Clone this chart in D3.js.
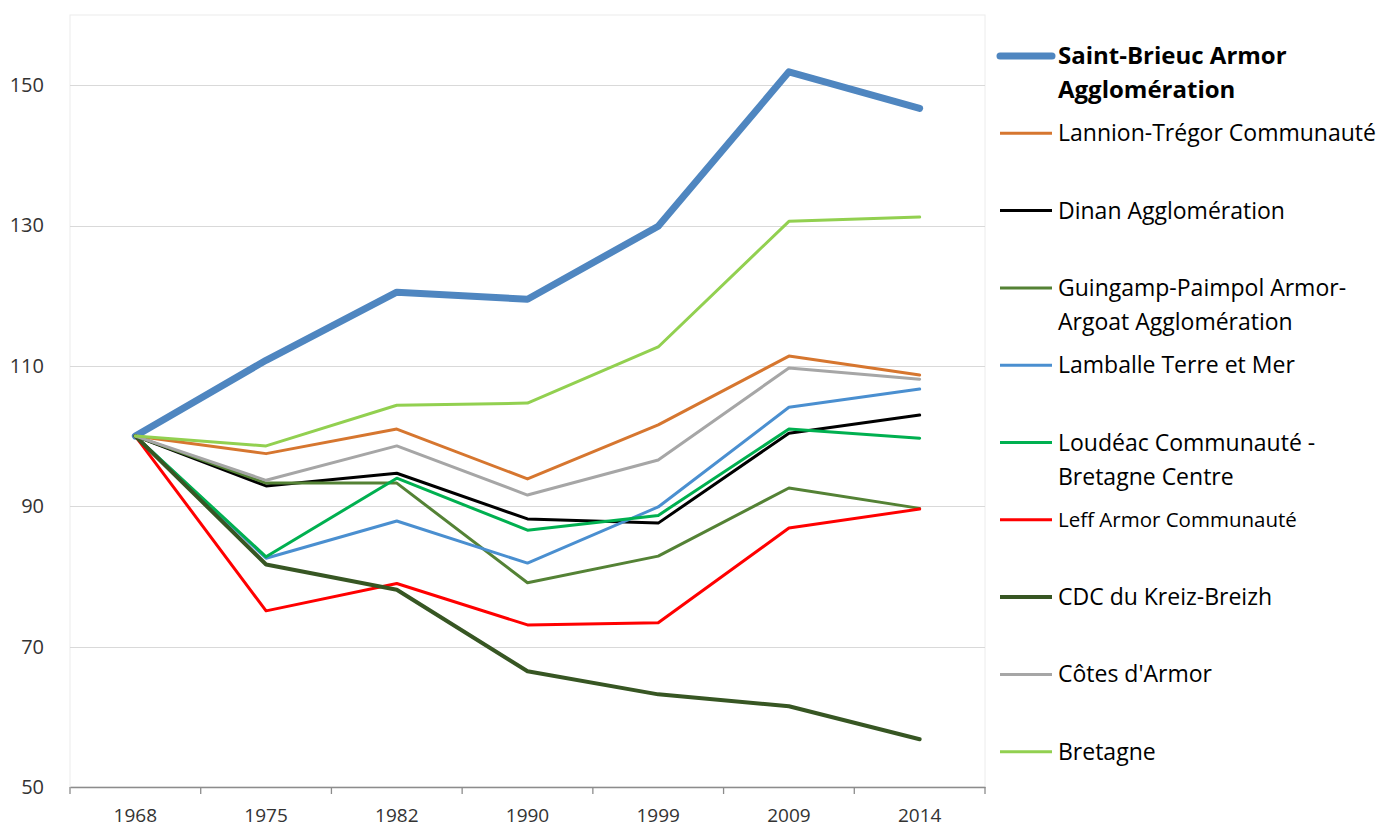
<!DOCTYPE html>
<html><head><meta charset="utf-8">
<script src="https://cdn.jsdelivr.net/npm/d3@7/dist/d3.min.js"></script>
<style>body{margin:0;background:#fff}svg{display:block}text{font-family:"Open Sans",sans-serif}</style>
</head><body><svg id="c" width="1380" height="828"></svg>
<script>
const years = ["1968","1975","1982","1990","1999","2009","2014"];
const yTicks = [50,70,90,110,130,150];
const names = ["Saint-Brieuc Armor Agglomération","Lannion-Trégor Communauté","Dinan Agglomération","Guingamp-Paimpol Armor-Argoat Agglomération","Lamballe Terre et Mer","Loudéac Communauté - Bretagne Centre","Leff Armor Communauté","CDC du Kreiz-Breizh","Côtes d'Armor","Bretagne"];
const legendLines = [["Saint-Brieuc Armor","Agglomération"],["Lannion-Trégor Communauté"],["Dinan Agglomération"],["Guingamp-Paimpol Armor-","Argoat Agglomération"],["Lamballe Terre et Mer"],["Loudéac Communauté -","Bretagne Centre"],["Leff Armor Communauté"],["CDC du Kreiz-Breizh"],["Côtes d'Armor"],["Bretagne"]];
const saintBrieuc = [100,110.8,120.5,119.5,129.9,151.9,146.7];
const lannion     = [100,97.5,101.0,93.9,101.6,111.4,108.7];
const dinan       = [100,92.9,94.7,88.2,87.6,100.4,103.0];
const guingamp    = [100,93.3,93.3,79.1,82.9,92.6,89.7];
const lamballe    = [100,82.6,87.9,81.9,89.9,104.1,106.7];
const loudeac     = [100,82.8,94.0,86.6,88.7,101.0,99.7];
const leff        = [100,75.1,79.0,73.1,73.4,86.9,89.6];
const kreiz       = [100,81.7,78.1,66.5,63.2,61.5,56.8];
const cotes       = [100,93.7,98.6,91.6,96.6,109.7,108.1];
const bretagne    = [100,98.6,104.4,104.7,112.7,130.6,131.2];
const seriesValues = [saintBrieuc,lannion,dinan,guingamp,lamballe,loudeac,leff,kreiz,cotes,bretagne];
const colors = ["#4f86c0","#d6762f","#000000","#548235","#4a8fd0","#00b050","#ff0000","#375623","#a6a6a6","#92d050"];
const widths = [7,3,3,3,3,3,3,4,3,3];

const svg = d3.select("#c");
const L=70, R=985, T=15, B=787;
const x = d3.scaleBand().domain(years).range([L,R]);
const y = d3.scaleLinear().domain([50,160]).range([B,T]);

svg.append("rect").attr("x",L).attr("y",T).attr("width",R-L).attr("height",B-T)
  .attr("fill","none").attr("stroke","#ececec").attr("stroke-width",1);
svg.append("g").selectAll("line").data(yTicks.filter(d=>d>50)).join("line")
  .attr("x1",L).attr("x2",R).attr("y1",d=>Math.round(y(d))+0.5).attr("y2",d=>Math.round(y(d))+0.5)
  .attr("stroke","#d9d9d9").attr("stroke-width",1.2);
const ya = svg.append("g").attr("transform",`translate(${L},0)`)
  .call(d3.axisLeft(y).tickValues(yTicks).tickSize(0).tickPadding(26));
ya.select(".domain").remove();
ya.selectAll("text").attr("font-size",20).attr("fill","#333").attr("font-family","Open Sans");
const xa = svg.append("g").attr("transform",`translate(0,${B})`)
  .call(d3.axisBottom(x).tickSize(0).tickPadding(22));
xa.select(".domain").attr("stroke","#8c8c8c").attr("stroke-width",1.3);
xa.selectAll("text").attr("font-size",19).attr("fill","#333").attr("font-family","Open Sans");
const bounds = years.map(d=>x(d)).concat([R]);
svg.append("g").selectAll("line").data(bounds).join("line")
  .attr("x1",d=>d).attr("x2",d=>d).attr("y1",B).attr("y2",B+7)
  .attr("stroke","#8c8c8c").attr("stroke-width",1.3);

const line = d3.line().x((d,i)=>x(years[i])+x.bandwidth()/2).y(d=>y(d));
svg.append("g").selectAll("path").data(seriesValues).join("path")
  .attr("d",line).attr("fill","none")
  .attr("stroke",(d,i)=>colors[i]).attr("stroke-width",(d,i)=>widths[i])
  .attr("stroke-linejoin","round").attr("stroke-linecap","round");

const lg = svg.append("g");
names.forEach((n,i)=>{
  const cy = 56 + i*77.3;
  const g = lg.append("g");
  g.append("line").attr("x1",1000).attr("x2",1052).attr("y1",cy).attr("y2",cy)
    .attr("stroke",colors[i]).attr("stroke-width",widths[i]).attr("stroke-linecap",i===0?"round":"butt");
  const fs = i===0?24:(i===6?20.5:23);
  const t = g.append("text").attr("x",1058).attr("y",cy)
    .attr("font-size", fs).attr("font-weight",i===0?"bold":"normal").attr("fill","#000");
  legendLines[i].forEach((s,j)=>{
    t.append("tspan").attr("x",1058).attr("y", cy + j*34).attr("dy","0.35em").text(s);
  });
});
</script></body></html>
